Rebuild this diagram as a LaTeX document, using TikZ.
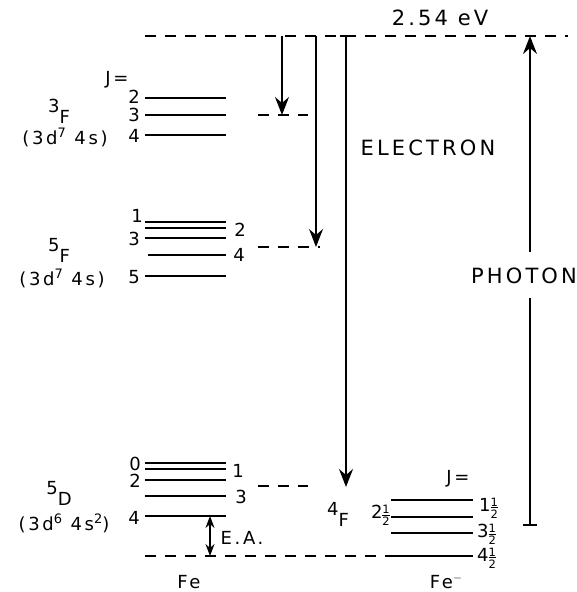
\documentclass[tikz,border=0pt]{standalone}
\usepackage{fontspec}
\setmainfont[LetterSpace=15]{DejaVu Sans}
\newfontfamily\nls{DejaVu Sans}
\usetikzlibrary{arrows.meta}
\newcommand\hf{\raisebox{-7pt}{\nls\fontsize{11.5}{11.5}\selectfont\vbox{\offinterlineskip\halign{\hfil##\hfil\cr 1\cr\noalign{\kern1.2pt\hrule height0.9pt\kern1.2pt}2\cr}}}}
\newcommand\rsup[1]{\raisebox{7pt}{\fontsize{13}{13}\selectfont #1}}
\newcommand\term[1]{\raisebox{11pt}{#1}}
\begin{document}
\begin{tikzpicture}[x=1pt,y=-1pt,
  lvl/.style={line width=1.4pt},
  lvlb/.style={line width=2.2pt},
  dsh/.style={line width=1.4pt, dash pattern=on 11pt off 9pt},
  arr/.style={line width=1.4pt,-{Stealth[length=18pt,width=14pt,inset=6pt]}},
  dbl/.style={line width=1.4pt,{Stealth[length=12pt,width=9pt,inset=4pt]}-{Stealth[length=12pt,width=9pt,inset=4pt]}},
  big/.style={font=\fontsize{21}{24}\selectfont, inner sep=0pt},
  sm/.style={font=\fontsize{18}{20}\selectfont, inner sep=0pt}]
\useasboundingbox (0,0) rectangle (576,592);

% ---- dashed reference levels
\draw[dsh] (145,36) -- (568,36);
\draw[dsh] (145,556) -- (391,556);
\draw[dsh] (258,115) -- (308,115);
\draw[dsh] (258,247) -- (320,247);
\draw[dsh] (258,486) -- (308,486);

% ---- Fe 3F levels
\foreach \y in {98,115,135} \draw[lvl] (145,\y) -- (226,\y);
% ---- Fe 5F levels
\foreach \y in {222,228,238,276} \draw[lvl] (145,\y) -- (226,\y);
\draw[lvl] (148,255) -- (226,255);
% ---- Fe 5D levels
\foreach \y in {463,469,480,496} \draw[lvl] (145,\y) -- (226,\y);
\draw[lvlb] (145,516) -- (226,516);
% ---- Fe- 4F levels
\foreach \y in {500,517,533} \draw[lvl] (391,\y) -- (473,\y);
\draw[lvlb] (391,556) -- (473,556);

% ---- big labels
\node[big] (ev) at (440,18) {2.54 eV};
\node[big] (electron) at (428,148) {ELECTRON};
\node[big] (photon) at (524,276) {PHOTON};

% ---- 3F labels
\node[sm] (jf3) at (117,80) {J=};
\node[sm] (f3j2) at (134,97) {2};
\node[sm] (f3j3) at (134,115) {3};
\node[sm] (f3j4) at (134,136) {4};
\node[sm,anchor=base] (f3) at (59,123) {\term{3}F};
\node[sm,anchor=base] (f3c) at (65,144) {(3d\rsup{7} 4s)};

% ---- 5F labels
\node[sm] (f5j1) at (137,216) {1};
\node[sm] (f5j2) at (240,230) {2};
\node[sm] (f5j3) at (134,239) {3};
\node[sm] (f5j4) at (239,255) {4};
\node[sm] (f5j5) at (134,277) {5};
\node[sm,anchor=base] (f5) at (59,262) {\term{5}F};
\node[sm,anchor=base] (f5c) at (62,285) {(3d\rsup{7} 4s)};

% ---- 5D labels
\node[sm] (d5j0) at (135,464) {0};
\node[sm] (d5j1) at (238,471) {1};
\node[sm] (d5j2) at (135,481) {2};
\node[sm] (d5j3) at (241,497) {3};
\node[sm] (d5j4) at (134,518) {4};
\node[sm,anchor=base] (d5) at (59,505) {\term{5}D};
\node[sm,anchor=base] (d5c) at (64,530) {(3d\rsup{6} 4s\rsup{2})};
\node[sm] (ea) at (242,538) {E.A.};
\node[sm] (fe) at (189,582) {Fe};

% ---- Fe- labels
\node[sm] (jfm) at (458,479) {J=};
\node[sm,anchor=west] (m1) at (479,508) {1\hf};
\node[sm,anchor=east] (m2) at (390,515) {2\hf};
\node[sm,anchor=base] (f4) at (338,526) {\term{4}F};
\node[sm,anchor=west] (m3) at (477,534) {3\hf};
\node[sm,anchor=west] (m4) at (477,558) {4\hf};
\node[sm] (fem) at (446,582) {Fe\rsup{$-$}};

% ---- arrows
\coordinate (a1s) at (282,36);  \coordinate (a1e) at (282,115);
\coordinate (a2s) at (316,36);  \coordinate (a2e) at (316,247);
\coordinate (a3s) at (346,36);  \coordinate (a3e) at (346,487);
\draw[arr] (a1s) -- (a1e);
\draw[arr] (a2s) -- (a2e);
\draw[arr] (a3s) -- (a3e);
\draw[line width=1.4pt] ([xshift=-6pt]a3s) -- ([xshift=4pt]a3s);

\coordinate (pb) at (530,525); \coordinate (pg1) at (530,298);
\coordinate (pg2) at (530,252); \coordinate (pt) at (530,36);
\draw[line width=1.4pt] (pb) -- (pg1);
\draw[line width=1.4pt] ([xshift=-7pt]pb) -- ([xshift=7pt]pb);
\draw[arr] (pg2) -- (pt);

\coordinate (eat) at (210,516); \coordinate (eab) at (210,556);
\draw[dbl] (eat) -- (eab);
\end{tikzpicture}
\end{document}
